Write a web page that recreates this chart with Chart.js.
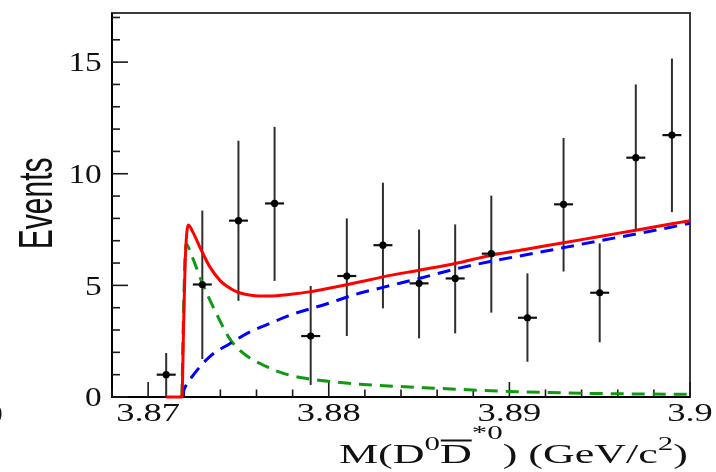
<!DOCTYPE html>
<html><head><meta charset="utf-8">
<script src="https://cdn.jsdelivr.net/npm/chart.js@4.4.1/dist/chart.umd.min.js"></script>
<style>html,body{margin:0;padding:0;background:#fff;}canvas{display:block;}</style>
</head><body>
<canvas id="c" width="716" height="472"></canvas>
<script>
// ---- data ----
const binCenters = [3.871, 3.873, 3.875, 3.877, 3.879, 3.881, 3.883, 3.885, 3.887, 3.889, 3.891, 3.893, 3.895, 3.897, 3.899];
const events     = [1.0, 5.04, 7.9, 8.67, 2.73, 5.42, 6.8, 5.09, 5.31, 6.42, 3.55, 8.63, 4.67, 10.72, 11.73];
const errLow     = [1.0, 3.34, 3.59, 3.47, 2.19, 2.69, 2.83, 2.46, 2.46, 2.64, 1.97, 3.01, 2.22, 3.22, 3.45];
const errHigh    = [0.97, 3.31, 3.58, 3.43, 2.24, 2.58, 2.8, 2.41, 2.42, 2.6, 1.99, 2.97, 2.21, 3.28, 3.43];

const totalX = [3.8710, 3.87187, 3.87196, 3.87205, 3.87214, 3.87223, 3.87250, 3.87290, 3.87340, 3.87400, 3.87460, 3.87510, 3.87570, 3.87670, 3.87790, 3.87900, 3.88000, 3.88175, 3.88300, 3.88500, 3.88700, 3.88900, 3.89100, 3.89300, 3.89500, 3.89700, 3.90000];
const totalY = [0, 0, 3.0, 6.0, 7.35, 7.7, 7.35, 6.65, 5.85, 5.2, 4.84, 4.66, 4.56, 4.52, 4.6, 4.72, 4.87, 5.16, 5.38, 5.68, 5.98, 6.35, 6.63, 6.91, 7.19, 7.47, 7.9];

const bkgX = [3.87187, 3.87200, 3.87251, 3.87340, 3.87454, 3.87565, 3.87676, 3.87787, 3.88000, 3.88150, 3.88300, 3.88500, 3.88700, 3.88900, 3.89100, 3.89300, 3.89500, 3.89700, 3.90000];
const bkgY = [0, 0.35, 0.99, 1.8, 2.4, 2.92, 3.3, 3.67, 4.2, 4.6, 4.91, 5.31, 5.73, 6.08, 6.38, 6.69, 7.0, 7.3, 7.78];

const sigX = [3.87187, 3.87198, 3.87210, 3.87243, 3.87300, 3.87380, 3.87454, 3.87510, 3.87565, 3.87650, 3.87713, 3.87787, 3.87900, 3.88000, 3.88170, 3.88500, 3.88700, 3.89000, 3.89450, 3.90000];
const sigY = [0, 4.5, 6.85, 6.3, 5.1, 3.7, 2.58, 2.08, 1.74, 1.38, 1.16, 0.97, 0.8, 0.7, 0.57, 0.43, 0.35, 0.25, 0.16, 0.12];

const xRange = [3.868, 3.9];
const yRange = [0, 17.2];
const xMajorTicks = [3.87, 3.88, 3.89, 3.9];
const xTickLabels = ['3.87', '3.88', '3.89', '3.9'];
const xMinorStep = 0.002;
const yMajorTicks = [0, 5, 10, 15];
const yTickLabels = ['0', '5', '10', '15'];
const yMinorStep = 1;
const yTitle = 'Events';

// ---- drawing helpers ----
function stretched(ctx, txt, x, y, font, sx, align) {
  ctx.save();
  ctx.translate(x, y);
  ctx.scale(sx, 1);
  ctx.font = font;
  ctx.textAlign = align;
  ctx.textBaseline = 'alphabetic';
  ctx.fillText(txt, 0, 0);
  ctx.restore();
}
function seg(ctx, x1, y1, x2, y2) { ctx.beginPath(); ctx.moveTo(x1, y1); ctx.lineTo(x2, y2); ctx.stroke(); }

const overlay = {
  id: 'overlay',
  beforeDraw(chart) {
    const ctx = chart.ctx;
    ctx.save(); ctx.fillStyle = '#fff'; ctx.fillRect(0, 0, chart.width, chart.height); ctx.restore();
  },
  beforeDatasetsDraw(chart) {
    const ctx = chart.ctx, xs = chart.scales.x, ys = chart.scales.y, a = chart.chartArea;
    ctx.save();
    // frame
    ctx.strokeStyle = '#3a3a3a'; ctx.lineWidth = 2;
    ctx.strokeRect(a.left, a.top, a.right - a.left, a.bottom - a.top);
    ctx.strokeStyle = '#000';
    seg(ctx, a.left, a.top, a.left, a.bottom + 1);
    seg(ctx, a.left - 1, a.bottom, a.right, a.bottom);
    // ticks (inward)
    ctx.strokeStyle = '#1a1a1a'; ctx.lineWidth = 1.6;
    const k0 = Math.ceil(xRange[0] / xMinorStep - 1e-6), k1 = Math.floor(xRange[1] / xMinorStep + 1e-6);
    for (let k = k0; k <= k1; k++) {
      const v = k * xMinorStep;
      const major = xMajorTicks.some(t => Math.abs(t - v) < 1e-7);
      const px = xs.getPixelForValue(v);
      seg(ctx, px, a.bottom, px, a.bottom - (major ? 15 : 7.5));
    }
    for (let v = yRange[0]; v <= yRange[1] + 1e-9; v += yMinorStep) {
      const major = yMajorTicks.includes(v);
      const py = ys.getPixelForValue(v);
      seg(ctx, a.left, py, a.left + (major ? 16 : 8), py);
    }
    // error bars + horizontal marker bars
    binCenters.forEach((x, i) => {
      const px = xs.getPixelForValue(x);
      const top = ys.getPixelForValue(events[i] + errHigh[i]);
      const bot = ys.getPixelForValue(Math.max(0, events[i] - errLow[i]));
      ctx.strokeStyle = '#2e2e2e'; ctx.lineWidth = 2;
      seg(ctx, px, top, px, bot);
      const py = ys.getPixelForValue(events[i]);
      ctx.strokeStyle = '#111'; ctx.lineWidth = 2.2;
      seg(ctx, px - 9.5, py, px + 9.5, py);
    });
    ctx.restore();
  },
  afterDraw(chart) {
    const ctx = chart.ctx, xs = chart.scales.x, ys = chart.scales.y;
    ctx.save();
    ctx.fillStyle = '#111';
    // tick labels
    yMajorTicks.forEach((v, i) => {
      stretched(ctx, yTickLabels[i], 101.7, ys.getPixelForValue(v) + 9.2, '28px "Liberation Serif"', 1.19, 'right');
    });
    xMajorTicks.forEach((v, i) => {
      stretched(ctx, xTickLabels[i], xs.getPixelForValue(v), 420.5, '25px "Liberation Serif"', 1.46, 'center');
    });
    // y title
    ctx.save();
    ctx.translate(51.5, 203.3);
    ctx.rotate(-Math.PI / 2);
    ctx.scale(1, 1.6);
    ctx.font = '30px "Liberation Sans"';
    ctx.textAlign = 'center'; ctx.textBaseline = 'alphabetic';
    ctx.fillText(yTitle, 0, 0);
    ctx.restore();
    // x title  M(D^0 Dbar^{*0}) (GeV/c^2)
    const main = '27px "Liberation Serif"', sup = '19px "Liberation Serif"';
    const pieces = [
      { t: 'M(D', f: main, dy: 0 },
      { t: '0', f: sup, dy: -13 },
      { t: 'D', f: main, dy: 0, over: true },
      { t: '*0', f: sup, dy: -24 },
      { t: ') (GeV/c', f: main, dy: 0 },
      { t: '2', f: sup, dy: -13 },
      { t: ')', f: main, dy: 0 }
    ];
    let total = 0;
    pieces.forEach(p => { ctx.font = p.f; p.w = ctx.measureText(p.t).width; total += p.w; });
    const sx = 1.63, right = 688, base = 463;
    ctx.save();
    ctx.translate(right - total * sx, base);
    ctx.scale(sx, 1);
    ctx.textAlign = 'left'; ctx.textBaseline = 'alphabetic';
    let cx = 0;
    pieces.forEach(p => {
      ctx.font = p.f;
      ctx.fillText(p.t, cx, p.dy);
      if (p.over) {
        ctx.strokeStyle = '#111'; ctx.lineWidth = 2;
        seg(ctx, cx + 0.5, -22.5, cx + p.w, -22.5);
      }
      cx += p.w;
    });
    ctx.restore();
    // clipped panel label at the far left edge
    stretched(ctx, '(b)', 3, 420, '26px "Liberation Serif"', 1.3, 'right');
    ctx.restore();
  }
};

const ptData = binCenters.map((x, i) => ({ x: x, y: events[i] }));
const toXY = (xa, ya) => xa.map((x, i) => ({ x: x, y: ya[i] }));

new Chart(document.getElementById('c'), {
  type: 'scatter',
  data: {
    datasets: [
      { label: 'data', data: ptData, pointRadius: 3.6, pointBackgroundColor: '#000', pointBorderWidth: 0, showLine: false, clip: false },
      { label: 'total', data: toXY(totalX, totalY), showLine: true, borderColor: '#ff0000', borderWidth: 3, pointRadius: 0, cubicInterpolationMode: 'monotone', fill: false, clip: false },
      { label: 'background', data: toXY(bkgX, bkgY), showLine: true, borderColor: '#0000ff', borderWidth: 3, borderDash: [13, 8], pointRadius: 0, cubicInterpolationMode: 'monotone', fill: false, clip: false },
      { label: 'signal', data: toXY(sigX, sigY), showLine: true, borderColor: '#119a11', borderWidth: 3, borderDash: [13, 8], pointRadius: 0, cubicInterpolationMode: 'monotone', fill: false, clip: false }
    ]
  },
  options: {
    responsive: false, animation: false, devicePixelRatio: 1, events: [],
    layout: { padding: { left: 112, right: 26, top: 13, bottom: 75 } },
    plugins: { legend: { display: false }, tooltip: { enabled: false } },
    scales: {
      x: { type: 'linear', min: xRange[0], max: xRange[1], display: false },
      y: { type: 'linear', min: yRange[0], max: yRange[1], display: false }
    }
  },
  plugins: [overlay]
});
</script>
</body></html>
